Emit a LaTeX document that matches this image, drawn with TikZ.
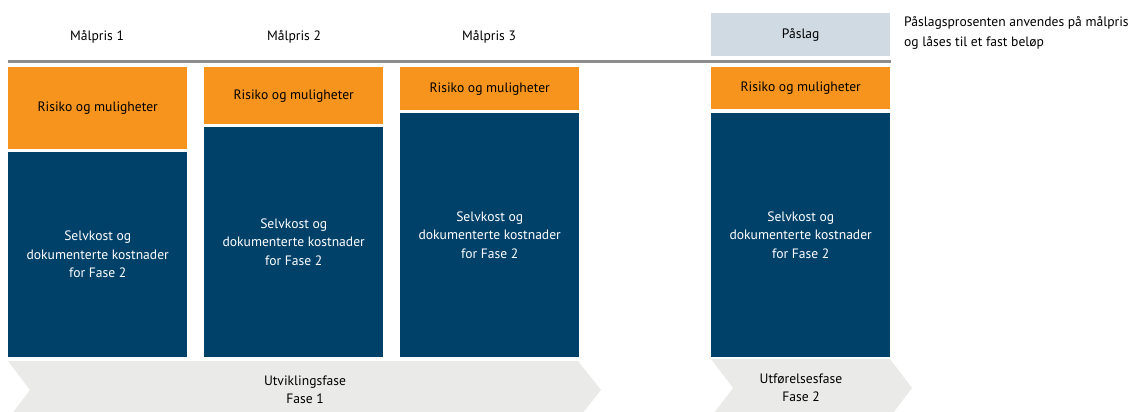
\documentclass[tikz,border=0pt]{standalone}
\usepackage{fontspec}
\setmainfont{PT Sans}
\definecolor{riskorange}{HTML}{F7941D}
\definecolor{costblue}{HTML}{00416A}
\definecolor{markupgrey}{HTML}{D0DAE3}
\definecolor{phasegrey}{HTML}{EAEAE8}
\definecolor{linegrey}{HTML}{8C8C8C}
\begin{document}
\begin{tikzpicture}[x=1pt,y=-1pt,
    txt/.style={font=\fontsize{13.6}{18.5}\selectfont,align=center},
    box/.style={txt,anchor=north west,inner sep=0pt,minimum width=179pt},
    risk/.style={box,fill=riskorange},
    cost/.style={box,fill=costblue,text=white},
    markup/.style={box,fill=markupgrey},
    phase/.style={fill=phasegrey}]
  \useasboundingbox (0,0) rectangle (1141,412);
  \clip (0,0) rectangle (1141,412);
  % target prices
  \node[txt] (h1) at (97,37) {Målpris 1};
  \node[txt] (h2) at (294,37) {Målpris 2};
  \node[txt] (h3) at (489,37) {Målpris 3};
  \node[markup,minimum height=43pt] (pa) at (711,13) {Påslag};
  \node[txt,anchor=north west,align=left,inner sep=0pt,
    font=\fontsize{13.6}{20}\selectfont] (note) at (904,16)
    {Påslagsprosenten anvendes på målpris\\og låses til et fast beløp};
  \draw[line width=3pt,linegrey] (8,62) -- (891,62);
  % columns
  \node[risk,minimum height=82pt] (r1) at (8,67) {Risiko og muligheter};
  \node[cost,minimum height=205pt] (c1) at (8,152)
    {Selvkost og\\dokumenterte kostnader\\for Fase 2};
  \node[risk,minimum height=57pt] (r2) at (204,67) {Risiko og muligheter};
  \node[cost,minimum height=230pt] (c2) at (204,127)
    {Selvkost og\\dokumenterte kostnader\\for Fase 2};
  \node[risk,minimum height=43pt] (r3) at (400,67) {Risiko og muligheter};
  \node[cost,minimum height=244pt] (c3) at (400,113)
    {Selvkost og\\dokumenterte kostnader\\for Fase 2};
  \node[risk,minimum height=42pt] (r4) at (711,67) {Risiko og muligheter};
  \node[cost,minimum height=244pt] (c4) at (711,113)
    {Selvkost og\\dokumenterte kostnader\\for Fase 2};
  % phases
  \fill[phase] (8,361) -- (578,361) -- (601,390) -- (578,419) -- (8,419)
    -- (30,390) -- cycle;
  \node[txt] (f1) at (305,390) {Utviklingsfase\\Fase 1};
  \fill[phase] (711,359) -- (890,359) -- (912,388) -- (890,417) -- (711,417)
    -- (733,388) -- cycle;
  \node[txt] (f2) at (801,388) {Utførelsesfase\\Fase 2};
\end{tikzpicture}
\end{document}
